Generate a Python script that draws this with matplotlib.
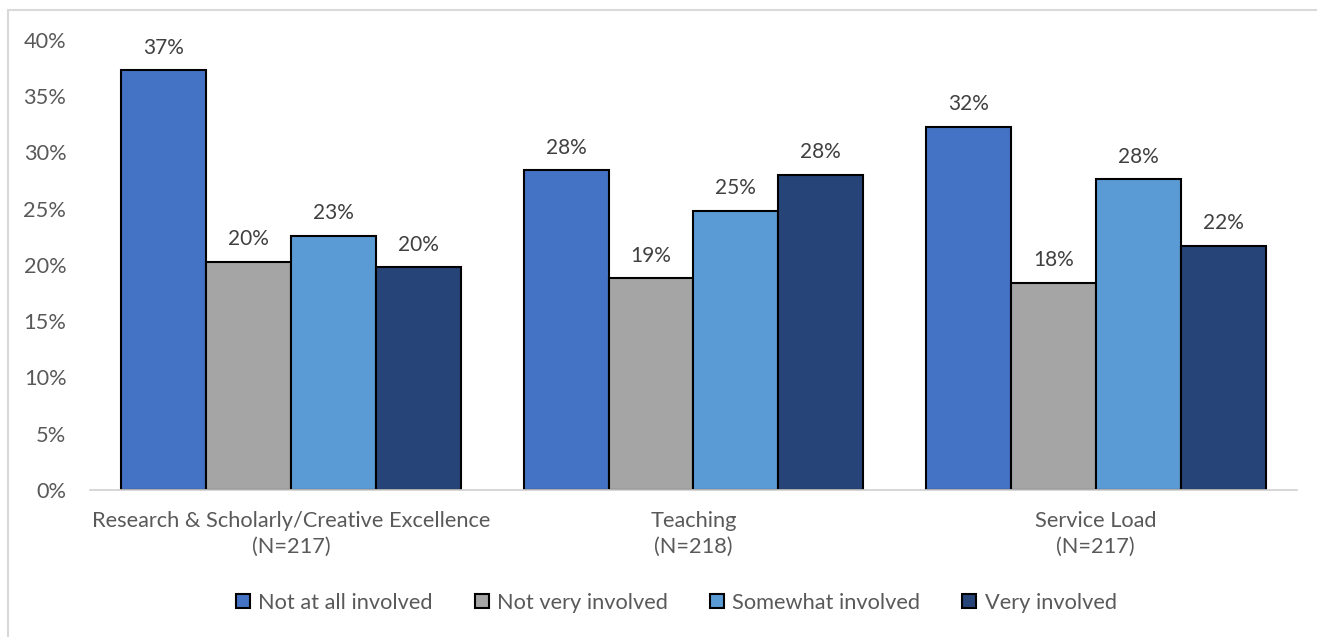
import matplotlib
matplotlib.use("Agg")
import matplotlib.pyplot as plt
from matplotlib.lines import Line2D
import numpy as np

plt.rcParams['font.family'] = ['Lato', 'DejaVu Sans']

categories = ["Research & Scholarly/Creative Excellence\n(N=217)",
              "Teaching\n(N=218)",
              "Service Load\n(N=217)"]
series_names = ["Not at all involved", "Not very involved",
                "Somewhat involved", "Very involved"]
not_at_all = [37.3, 28.4, 32.3]
not_very = [20.3, 18.8, 18.4]
somewhat = [22.6, 24.8, 27.6]
very = [19.8, 28.0, 21.7]
y_ticks = [0, 5, 10, 15, 20, 25, 30, 35, 40]

series = [not_at_all, not_very, somewhat, very]
colors = ["#4472C4", "#A5A5A5", "#5B9BD5", "#264478"]

fig = plt.figure(figsize=(13.17, 6.37), dpi=100)
ax = fig.add_axes([0.0683, 0.2308, 0.9165, 0.7064])

x = np.arange(len(categories))
width = 0.211
text_color = "#595959"

for i, (vals, col, name) in enumerate(zip(series, colors, series_names)):
    pos = x + (i - 1.5) * width
    bars = ax.bar(pos, vals, width, color=col, edgecolor="black",
                  linewidth=1.5, label=name, zorder=3)
    for b, v in zip(bars, vals):
        ax.annotate(f"{v:.0f}%", (b.get_x() + b.get_width() / 2, v),
                    xytext=(0, 9), textcoords="offset points",
                    ha="center", va="bottom", fontsize=15, color="#404040")

ax.set_xlim(-0.5, 2.5)
ax.set_ylim(0, 40)
ax.set_yticks(y_ticks)
ax.set_yticklabels([f"{t}%" for t in y_ticks])
ax.set_xticks(x)
ax.set_xticklabels(categories, linespacing=1.35)
ax.tick_params(axis="both", length=0, labelsize=15.7, labelcolor=text_color)
ax.tick_params(axis="x", pad=15)
ax.tick_params(axis="y", pad=17)
for s in ["top", "right", "left"]:
    ax.spines[s].set_visible(False)
ax.spines["bottom"].set_color("#d0d0d0")
ax.spines["bottom"].set_linewidth(1.2)
ax.spines["bottom"].set_zorder(4)

handles = [Line2D([0], [0], marker="s", linestyle="none", markersize=10,
                  markerfacecolor=c, markeredgecolor="black",
                  markeredgewidth=1.5) for c in colors]
fig.legend(handles, series_names, loc="center", bbox_to_anchor=(0.508, 0.054),
           ncol=4, frameon=False, fontsize=15.7, handletextpad=-0.3,
           columnspacing=1.25, labelcolor=text_color)

# outer frame (top and left edges)
fig.add_artist(Line2D([8 / 1317, 1.0], [1 - 10 / 637, 1 - 10 / 637],
                      transform=fig.transFigure, color="#d9d9d9", linewidth=1.5))
fig.add_artist(Line2D([8 / 1317, 8 / 1317], [0, 1 - 10 / 637],
                      transform=fig.transFigure, color="#d9d9d9", linewidth=1.5))

fig.savefig("out.png", dpi=100)
